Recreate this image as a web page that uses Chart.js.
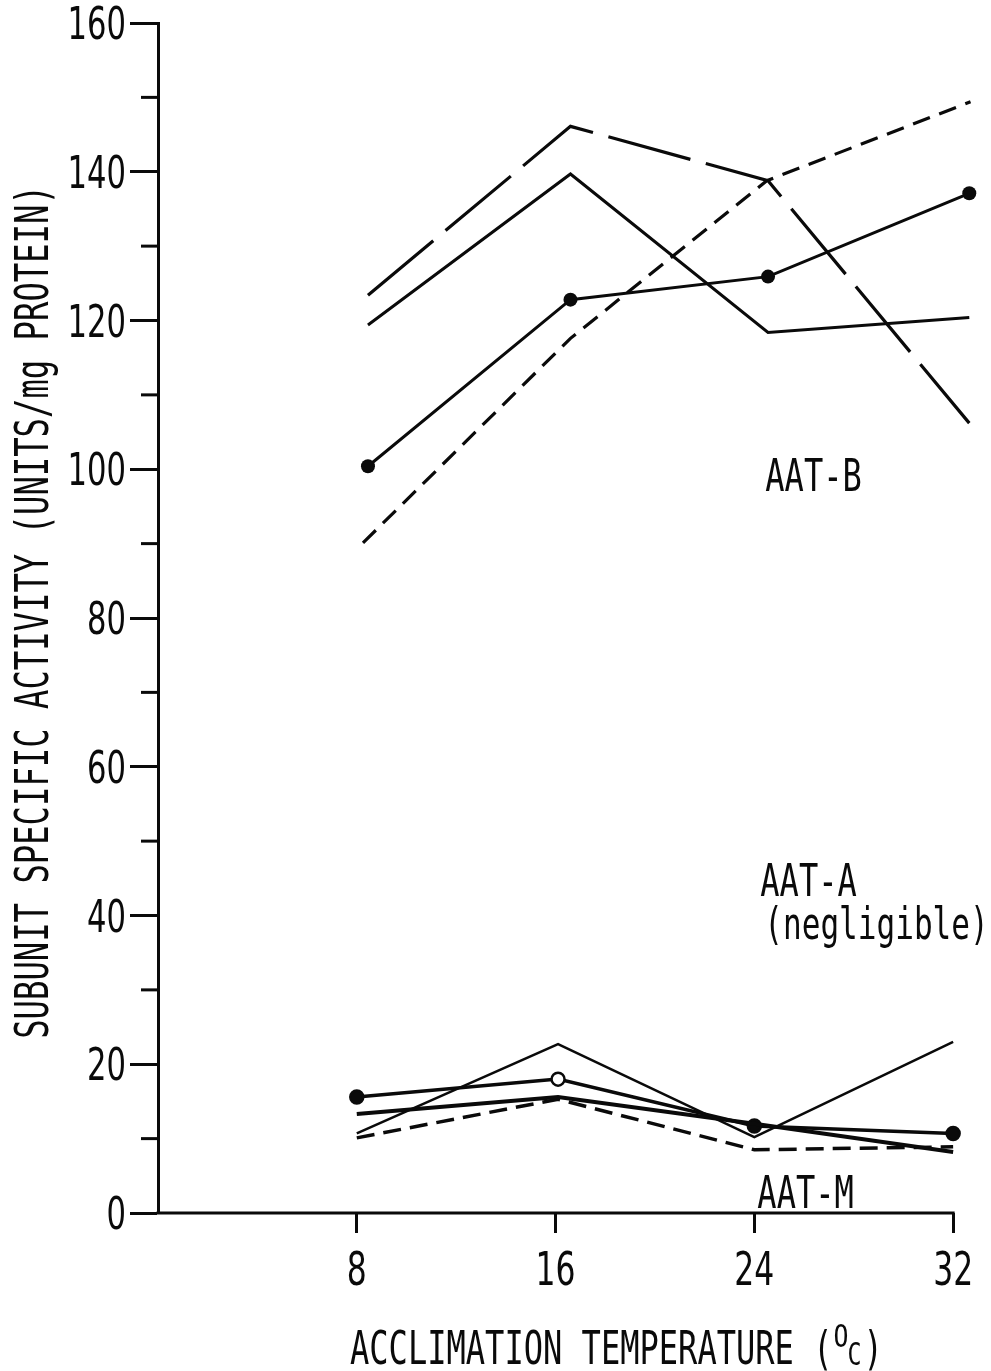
<!DOCTYPE html>
<html><head><meta charset="utf-8">
<script src="https://cdn.jsdelivr.net/npm/chart.js@4/dist/chart.umd.min.js"></script>
<style>html,body{margin:0;padding:0;background:#fff}#wrap{width:991px;height:1371px;position:relative}</style>
</head><body><div id="wrap"><canvas id="c"></canvas></div>
<script>
// ---- data ----
const tempTicks = [8, 16, 24, 32];
const yMin = 0, yMax = 160, yStep = 20;
const minorTicks = [10, 30, 50, 70, 90, 110, 130, 150];

const tempB      = [8.45, 16.6, 24.55, 32.65];
const tempBDash  = [8.25, 16.6, 24.5, 32.7];
const tempM      = [8, 16.1, 24, 32];

const bLongDash  = [123.4, 146.1, 138.8, 106.2];
const bSolid     = [119.4, 139.7, 118.4, 120.4];
const bDotted    = [100.4, 122.8, 125.9, 137.1];
const bShortDash = [90.1, 117.6, 138.8, 149.4];

const mDotted    = [15.6, 18.0, 11.7, 10.7];
const mThin      = [10.7, 22.7, 10.2, 23.0];
const mThick     = [13.3, 15.6, 12.0, 8.2];
const mDash      = [10.1, 15.3, 8.5, 8.9];

const noteTexts  = ['AAT-B', 'AAT-A', '(negligible)', 'AAT-M'];
const noteX      = [24.44, 24.24, 24.4, 24.12];
const noteY      = [97.1, 42.6, 36.9, 0.67];

const yTitle = 'SUBUNIT SPECIFIC ACTIVITY (UNITS/mg PROTEIN)';
const xTitleParts = ['ACCLIMATION TEMPERATURE (', 'O', 'C', ')'];

// ---- helpers ----
const pts = (xs, ys) => xs.map((x, i) => ({x: x, y: ys[i]}));
const INK = '#0a0a0a';
const MONO = '"DejaVu Sans Mono", "Liberation Mono", monospace';
const DIGITS = '"DejaVu Sans", "Liberation Sans", sans-serif';
const CHARW = 19.3;

function fitText(ctx, text, x, y, size, cw, family) {
  ctx.save();
  ctx.font = size + 'px ' + (family || MONO);
  ctx.textAlign = 'left';
  ctx.textBaseline = 'alphabetic';
  const w = ctx.measureText(text).width;
  const sx = (cw * text.length) / w;
  ctx.translate(x, y);
  ctx.scale(sx, 1);
  ctx.fillText(text, 0, 0);
  ctx.restore();
  return cw * text.length;
}

const textPlugin = {
  id: 'textPlugin',
  afterDraw(chart) {
    const ctx = chart.ctx;
    const xs = chart.scales.x, ys = chart.scales.y;
    ctx.save();
    ctx.fillStyle = INK;
    ctx.strokeStyle = INK;
    // x axis line, from the y axis to the last tick
    ctx.lineWidth = 3;
    ctx.beginPath();
    ctx.moveTo(xs.left - 1.5, ys.bottom);
    ctx.lineTo(xs.getPixelForValue(tempTicks[tempTicks.length - 1]) + 1.5, ys.bottom);
    ctx.stroke();
    // minor ticks on y axis
    minorTicks.forEach(v => {
      const py = ys.getPixelForValue(v);
      ctx.beginPath();
      ctx.moveTo(xs.left - 17, py);
      ctx.lineTo(xs.left, py);
      ctx.stroke();
    });
    // y tick labels from the scale's ticks
    ys.ticks.forEach(t => {
      const s = String(t.value);
      const py = ys.getPixelForValue(t.value);
      fitText(ctx, s, xs.left - 32 - 19.5 * s.length, py + 16, 45, 19.5, DIGITS);
    });
    // x tick labels
    xs.ticks.forEach(t => {
      const s = String(t.value);
      const px = xs.getPixelForValue(t.value);
      fitText(ctx, s, px - 10 * s.length, ys.bottom + 72, 47, 20, DIGITS);
    });
    // annotations
    noteTexts.forEach((t, i) => {
      fitText(ctx, t, xs.getPixelForValue(noteX[i]), ys.getPixelForValue(noteY[i]), 45, t.length > 6 ? 18.7 : CHARW);
    });
    // y title (rotated)
    ctx.save();
    ctx.translate(48, (ys.top + ys.bottom) / 2 - 6);
    ctx.rotate(-Math.PI / 2);
    const len = yTitle.length * 19.4;
    fitText(ctx, yTitle, -len / 2, 0, 46, 19.4);
    ctx.restore();
    // x title
    let cx = 350;
    const base = 1364;
    cx += fitText(ctx, xTitleParts[0], cx, base, 46, CHARW);
    fitText(ctx, xTitleParts[1], cx + 1, base - 17, 32, 15);
    cx += 15;
    cx += fitText(ctx, xTitleParts[2], cx, base + 1, 32, 14);
    fitText(ctx, xTitleParts[3], cx + 2, base, 46, CHARW);
    ctx.restore();
  }
};

const lineDs = (data, extra) => Object.assign({
  data: data, borderColor: INK, backgroundColor: INK, borderWidth: 3,
  pointRadius: 0, fill: false, tension: 0, clip: false
}, extra);

new Chart(document.getElementById('c'), {
  type: 'line',
  data: {
    datasets: [
      lineDs(pts(tempB, bLongDash), {borderDash: [85, 16], borderWidth: 3.2}),
      lineDs(pts(tempB, bSolid), {borderWidth: 3}),
      lineDs(pts(tempB, bDotted), {borderWidth: 3, pointRadius: 7, pointBorderWidth: 0}),
      lineDs(pts(tempBDash, bShortDash), {borderDash: [18, 10], borderWidth: 3.2}),
      lineDs(pts(tempM, mThin), {borderWidth: 2.5}),
      lineDs(pts(tempM, mThick), {borderWidth: 4}),
      lineDs(pts(tempM, mDash), {borderDash: [18, 9], borderWidth: 3.5}),
      lineDs(pts(tempM, mDotted), {borderWidth: 3.5, pointRadius: 6.5, pointBorderWidth: 2.5,
        pointBackgroundColor: [INK, '#fff', INK, INK], pointBorderColor: INK})
    ]
  },
  options: {
    responsive: true, maintainAspectRatio: false, animation: false,
    layout: {padding: {left: 0, top: 23, right: 16, bottom: 0}},
    plugins: {legend: {display: false}, tooltip: {enabled: false}},
    scales: {
      x: {
        type: 'linear', min: 0, max: 32.88,
        afterBuildTicks: s => { s.ticks = tempTicks.map(v => ({value: v})); },
        afterFit: s => { s.height = 158; },
        grid: {drawOnChartArea: false, drawTicks: true, tickLength: 20, tickWidth: 3, color: INK},
        border: {display: false},
        ticks: {display: false}
      },
      y: {
        min: yMin, max: yMax,
        afterFit: s => { s.width = 158; },
        grid: {drawOnChartArea: false, drawTicks: true, tickLength: 28, tickWidth: 3, color: INK},
        border: {display: true, color: INK, width: 3},
        ticks: {display: false, stepSize: yStep}
      }
    }
  },
  plugins: [textPlugin]
});
</script></body></html>
